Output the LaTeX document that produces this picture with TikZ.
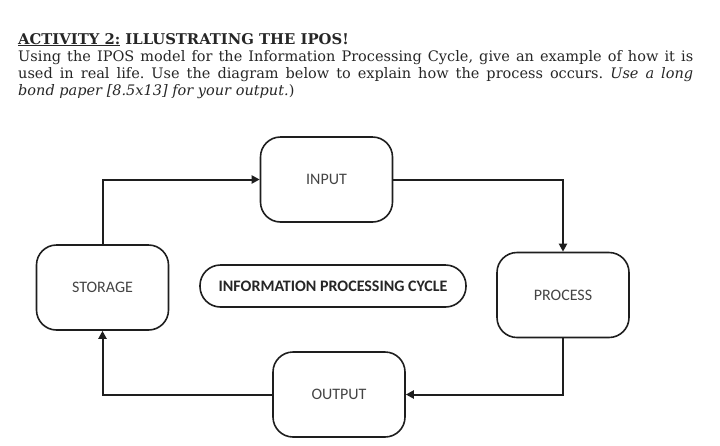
\documentclass[tikz,border=0pt]{standalone}
\usepackage{fontspec}
\setmainfont{DejaVu Serif}
\setsansfont{Carlito}
\usetikzlibrary{positioning,arrows.meta}
\definecolor{linea}{HTML}{1E1E1E}
\definecolor{texto}{HTML}{444444}
\definecolor{tinta}{HTML}{262626}

\begin{document}
\frenchspacing
\begin{tikzpicture}[x=1pt,y=-1pt,
    stage/.style={draw=linea,line width=1.6pt,rounded corners=20pt,minimum width=132pt,minimum height=85pt,font=\sffamily\fontsize{16}{18}\selectfont,text=texto},
    cyclelabel/.style={draw=linea,line width=1.6pt,rounded corners=20.5pt,minimum width=266pt,minimum height=42pt,font=\sffamily\bfseries\fontsize{16}{18}\selectfont,text=tinta},
    flow/.style={-{Triangle[length=8pt,width=8pt]},line width=2pt,draw=linea},
    header/.style={anchor=base west,inner sep=0pt,text=tinta,font=\fontsize{14.5}{17}\selectfont}]
    \useasboundingbox (0,0) rectangle (720,445);
    % heading and instructions
    \node[header,font=\bfseries\fontsize{14.8}{17}\selectfont] (title) at (18,44) {\underline{ACTIVITY 2:} ILLUSTRATING THE IPOS!};
    \node[header] (lineone) at (18,61) {\makebox[675pt][s]{Using the IPOS model for the Information Processing Cycle, give an example of how it is}};
    \node[header] (linetwo) at (18,78) {\makebox[675pt][s]{used in real life. Use the diagram below to explain how the process occurs. \textit{Use a long}}};
    \node[header] (linethree) at (18,95) {\textit{bond paper [8.5x13] for your output.})};
    % the cycle
    \node[stage] (input) at (326.5,179.5) {INPUT};
    \node[stage] (process) at (563,295) {PROCESS};
    \node[stage] (output) at (339,394.5) {OUTPUT};
    \node[stage] (storage) at (102.5,287.5) {STORAGE};
    \node[cyclelabel] (ipc) at (333,286) {INFORMATION PROCESSING CYCLE};
    \draw[flow] (input.east) -| (process.north);
    \draw[flow] (process.south) |- (output.east);
    \draw[flow] (output.west) -| (storage.south);
    \draw[flow] (storage.north) |- (input.west);
\end{tikzpicture}
\end{document}
